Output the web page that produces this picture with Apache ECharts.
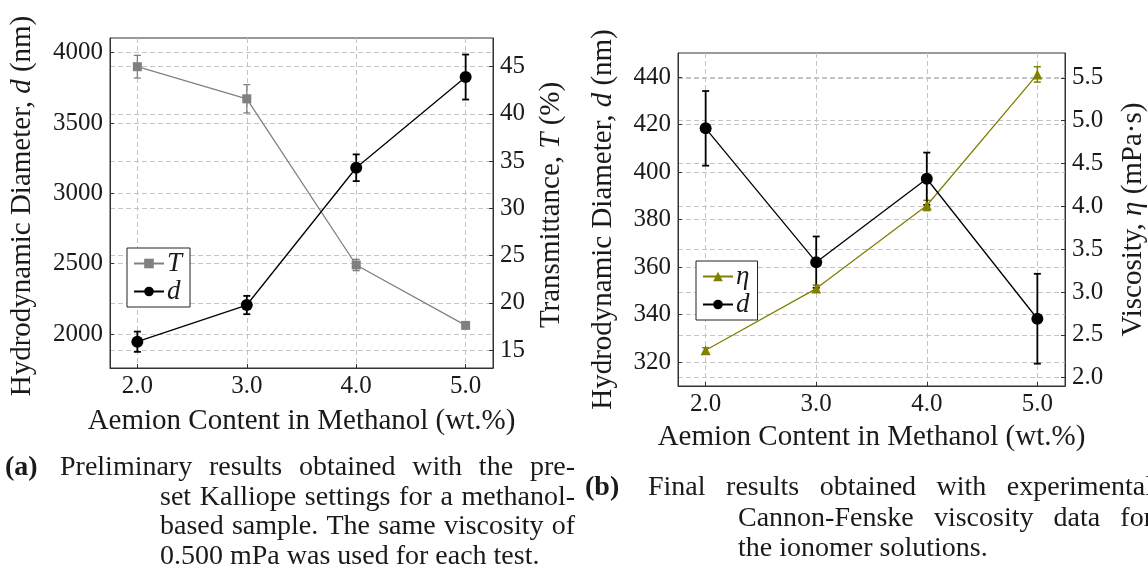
<!DOCTYPE html>
<html>
<head>
<meta charset="utf-8">
<script src="https://cdn.jsdelivr.net/npm/echarts@6/dist/echarts.min.js"></script>
<style>
  html, body { margin: 0; padding: 0; background: #fff; }
  #chart { width: 1148px; height: 575px; }
</style>
</head>
<body>
<div id="chart"></div>
<script>
// ---- data -------------------------------------------------------------
// Aemion content in methanol (wt.%)
const content = [2.0, 3.0, 4.0, 5.0];

// (a) preliminary Kalliope run
const transmittance = [45.0, 41.6, 24.0, 17.6];        // T (%)
const transmittanceErr = [1.2, 1.5, 0.6, 0.15];
const diameterPrelim = [1945, 2206, 3182, 3827];        // d (nm)
const diameterPrelimErr = [72, 65, 95, 160];

// (b) final run with Cannon-Fenske viscosities
const viscosity = [2.32, 3.04, 4.01, 5.54];             // eta (mPa·s)
const viscosityErr = [0.03, 0.04, 0.06, 0.09];
const diameterFinal = [418.4, 362.1, 397.2, 338.3];     // d (nm)
const diameterFinalErr = [15.7, 10.8, 11.0, 18.9];

// tick labels
const ticksDiamPrelim = [2000, 2500, 3000, 3500, 4000];
const ticksTransmittance = [15, 20, 25, 30, 35, 40, 45];
const ticksDiamFinal = [320, 340, 360, 380, 400, 420, 440];
const ticksViscosity = [2.0, 2.5, 3.0, 3.5, 4.0, 4.5, 5.0, 5.5];

// ---- styling ------------------------------------------------------------
const FONT = '"Liberation Serif", "Times New Roman", serif';
const INK = '#1a1a1a';
const GRAY = '#808080';
const OLIVE = '#808000';
const GRID_LINE = { show: true, lineStyle: { type: [5, 3], color: '#c4c4c4', width: 1 } };

const zip = (...cols) => cols[0].map((_, i) => cols.map(c => c[i]));

function xAxisFor(gridIndex) {
  return {
    type: 'value', gridIndex, min: 1.75, max: 5.25,
    axisLine: { show: true, onZero: false, lineStyle: { color: '#333', width: 1 } },
    axisTick: { show: true, inside: true, length: 4, customValues: content, lineStyle: { color: '#333' } },
    axisLabel: { customValues: content, formatter: v => v.toFixed(1), fontFamily: FONT, fontSize: 25, color: INK, margin: 6 },
    splitLine: GRID_LINE
  };
}

function yAxisFor(gridIndex, position, min, max, ticks, digits) {
  return {
    type: 'value', gridIndex, position, min, max,
    axisLine: { show: true, onZero: false, lineStyle: { color: '#333', width: 1 } },
    axisTick: { show: true, inside: true, length: 4, customValues: ticks, lineStyle: { color: '#333' } },
    axisLabel: { customValues: ticks, formatter: v => v.toFixed(digits), fontFamily: FONT, fontSize: 25, color: INK, margin: 7 },
    splitLine: GRID_LINE
  };
}

// vertical error bar with caps, drawn through the axis scales
function errorBars(color, width) {
  return function (params, api) {
    const x = api.value(0), y = api.value(1), e = api.value(2);
    const hi = api.coord([x, y + e]);
    const lo = api.coord([x, y - e]);
    const h = 3.5;
    const style = { stroke: color, lineWidth: width, fill: null };
    return {
      type: 'group',
      children: [
        { type: 'line', shape: { x1: hi[0], y1: hi[1], x2: lo[0], y2: lo[1] }, style },
        { type: 'line', shape: { x1: hi[0] - h, y1: hi[1], x2: hi[0] + h, y2: hi[1] }, style },
        { type: 'line', shape: { x1: lo[0] - h, y1: lo[1], x2: lo[0] + h, y2: lo[1] }, style }
      ]
    };
  };
}

function errSeries(xi, yi, color, width, vals, errs) {
  return {
    type: 'custom', xAxisIndex: xi, yAxisIndex: yi, silent: true, z: 2,
    encode: { x: 0, y: 1 },
    renderItem: errorBars(color, width),
    data: zip(content, vals, errs)
  };
}

function lineSeries(name, xi, yi, color, symbol, size, vals, z) {
  return {
    type: 'line', name, xAxisIndex: xi, yAxisIndex: yi, z,
    data: zip(content, vals),
    symbol, symbolSize: size, showSymbol: true,
    itemStyle: { color, borderWidth: 0 },
    lineStyle: { color, width: 1.3 },
    emphasis: { disabled: true }
  };
}

// ---- text helpers ---------------------------------------------------------
const measureCtx = document.createElement('canvas').getContext('2d');
function textWidth(s, size, weight) {
  measureCtx.font = (weight ? weight + ' ' : '') + size + 'px ' + FONT;
  return measureCtx.measureText(s).width;
}

function plainText(s, x, y, size, opts) {
  opts = opts || {};
  return {
    type: 'text', x, y, rotation: opts.rotation || 0, silent: true,
    style: {
      text: s, fontFamily: FONT, fontSize: size, fontWeight: opts.weight || 'normal',
      fill: INK, align: opts.align || 'left', verticalAlign: 'middle',
      rich: opts.rich
    }
  };
}

// justified caption line: words spread between x0 and x1
function justified(words, x0, x1, y, size) {
  const widths = words.map(w => textWidth(w, size));
  const total = widths.reduce((a, b) => a + b, 0);
  const gap = (x1 - x0 - total) / (words.length - 1);
  let x = x0;
  return words.map((w, i) => {
    const el = plainText(w, x, y, size);
    x += widths[i] + gap;
    return el;
  });
}

const NAME_SIZE = 29;
const CAP_SIZE = 28;
const italicRich = { i: { fontStyle: 'italic', fontFamily: FONT, fontSize: NAME_SIZE, fill: INK } };

const labels = [
  plainText('Hydrodynamic Diameter, {i|d} (nm)', 22, 206, NAME_SIZE, { rotation: Math.PI / 2, align: 'center', rich: italicRich }),
  plainText('Transmittance, {i|T} (%)', 551, 205, NAME_SIZE, { rotation: Math.PI / 2, align: 'center', rich: italicRich }),
  plainText('Aemion Content in Methanol (wt.%)', 301.5, 421, NAME_SIZE, { align: 'center' }),
  plainText('Hydrodynamic Diameter, {i|d} (nm)', 603, 219.5, NAME_SIZE, { rotation: Math.PI / 2, align: 'center', rich: italicRich }),
  plainText('Viscosity, {i|η} (mPa·s)', 1133, 219.5, NAME_SIZE, { rotation: Math.PI / 2, align: 'center', rich: italicRich }),
  plainText('Aemion Content in Methanol (wt.%)', 871.5, 437, NAME_SIZE, { align: 'center' })
];

const captions = [].concat(
  [plainText('(a)', 5, 468, CAP_SIZE, { weight: 'bold' })],
  justified(['Preliminary', 'results', 'obtained', 'with', 'the', 'pre-'], 60, 575, 468, CAP_SIZE),
  justified(['set', 'Kalliope', 'settings', 'for', 'a', 'methanol-'], 160, 575, 497.5, CAP_SIZE),
  justified(['based', 'sample.', 'The', 'same', 'viscosity', 'of'], 160, 575, 527, CAP_SIZE),
  [plainText('0.500 mPa was used for each test.', 160, 557, CAP_SIZE)],
  [plainText('(b)', 585, 488, CAP_SIZE, { weight: 'bold' })],
  justified(['Final', 'results', 'obtained', 'with', 'experimental'], 648, 1153, 488, CAP_SIZE),
  justified(['Cannon-Fenske', 'viscosity', 'data', 'for'], 738, 1153, 518.5, CAP_SIZE),
  [plainText('the ionomer solutions.', 738, 549, CAP_SIZE)]
);

const legendBase = {
  orient: 'vertical', backgroundColor: '#fff', borderColor: '#222', borderWidth: 1,
  padding: [2, 8, 2, 6], itemGap: 1, itemWidth: 30, itemHeight: 12,
  selectedMode: false,
  textStyle: { fontFamily: FONT, fontStyle: 'italic', fontSize: 27, color: INK, padding: [0, 0, 0, -2] }
};

const option = {
  backgroundColor: '#fff',
  animation: false,
  grid: [
    { left: 110, top: 38, width: 383, height: 330, show: true, borderColor: '#333', borderWidth: 1, backgroundColor: 'transparent' },
    { left: 678, top: 53, width: 387, height: 333, show: true, borderColor: '#333', borderWidth: 1, backgroundColor: 'transparent' }
  ],
  xAxis: [xAxisFor(0), xAxisFor(1)],
  yAxis: [
    yAxisFor(0, 'left', 1758.3, 4104.5, ticksDiamPrelim, 0),
    yAxisFor(0, 'right', 13.09, 48.04, ticksTransmittance, 0),
    yAxisFor(1, 'left', 310.0, 450.1, ticksDiamFinal, 0),
    yAxisFor(1, 'right', 1.903, 5.79, ticksViscosity, 1)
  ],
  legend: [
    Object.assign({}, legendBase, { data: ['T', 'd'], left: 127, top: 248 }),
    Object.assign({}, legendBase, { data: ['η', 'd'], left: 696, top: 261 })
  ],
  series: [
    errSeries(0, 1, GRAY, 1.3, transmittance, transmittanceErr),
    lineSeries('T', 0, 1, GRAY, 'rect', 9, transmittance, 3),
    errSeries(0, 0, '#000', 1.8, diameterPrelim, diameterPrelimErr),
    lineSeries('d', 0, 0, '#000', 'circle', 12, diameterPrelim, 4),

    errSeries(1, 3, OLIVE, 1.5, viscosity, viscosityErr),
    lineSeries('η', 1, 3, OLIVE, 'triangle', 10, viscosity, 3),
    errSeries(1, 2, '#000', 1.8, diameterFinal, diameterFinalErr),
    lineSeries('d', 1, 2, '#000', 'circle', 12, diameterFinal, 4)
  ],
  graphic: labels.concat(captions)
};

const chart = echarts.init(document.getElementById('chart'), null, { renderer: 'canvas' });
chart.setOption(option);
</script>
</body>
</html>
